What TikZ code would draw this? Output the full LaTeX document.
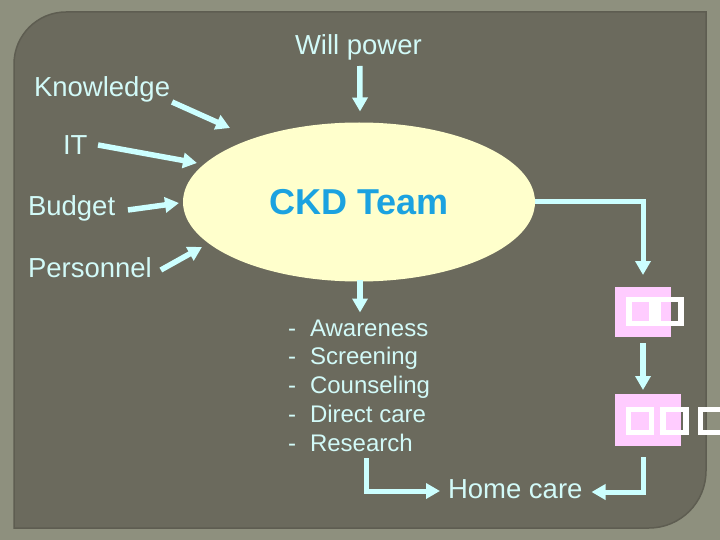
\documentclass[tikz,border=0pt]{standalone}
\usepackage{fontspec}
\setmainfont{Liberation Sans}
\usetikzlibrary{arrows.meta,shapes.geometric}
\definecolor{outerbg}{HTML}{8E907E}
\definecolor{panel}{HTML}{6B6A5D}
\definecolor{paneledge}{HTML}{5E5D51}
\definecolor{cyanc}{HTML}{CCFFFF}
\definecolor{txtc}{HTML}{D2FAF8}
\definecolor{ellc}{HTML}{FFFFCC}
\definecolor{ckdblue}{HTML}{1BA2E0}
\definecolor{pinkc}{HTML}{FFCCFF}
\tikzset{
  lbl/.style={font=\fontsize{27.5}{33}\selectfont, text=txtc, inner sep=0pt, outer sep=0pt, anchor=base west},
  item/.style={font=\fontsize{24}{28.8}\selectfont, text=txtc, inner sep=0pt, outer sep=0pt, anchor=base west},
  arr/.style={draw=cyanc, line width=5.5pt, -{Triangle[width=15pt,length=14pt]}},
  bent/.style={draw=cyanc, line width=5pt, line join=miter, -{Triangle[width=15pt,length=14pt]}},
  pinkbox/.style={fill=pinkc, inner sep=0pt, outer sep=0pt, rectangle},
  tofu/.style={draw=white, line width=5.2pt, inner sep=0pt, outer sep=0pt, rectangle, minimum width=23pt, minimum height=23.5pt}
}
\begin{document}
\begin{tikzpicture}[x=1pt,y=-1pt]
\useasboundingbox (0,0) rectangle (720,540);
\fill[outerbg] (0,0) rectangle (720,540);
\filldraw[fill=panel, draw=paneledge, line width=1.5pt]
  (14,528) -- (14,64) arc[start angle=180,end angle=90,radius=52pt]
  -- (706,12) -- (706,471) arc[start angle=0,end angle=-90,radius=57pt] -- cycle;

% labels
\node[lbl] (will) at (295,55) {Will power};
\node[lbl] (know) at (34,97) {Knowledge};
\node[lbl] (it) at (63,155) {IT};
\node[lbl] (budget) at (28,215) {Budget};
\node[lbl] (pers) at (28,277) {Personnel};

% central ellipse
\node[ellipse, fill=ellc, minimum width=352pt, minimum height=159pt, inner sep=0pt, outer sep=0pt,
      text=ckdblue, font=\fontsize{36}{40}\selectfont\bfseries] (ckd) at (359,202) {CKD Team};

% activity list
\foreach \w [count=\i] in {Awareness,Screening,Counseling,Direct care,Research}{
  \node[item] (d\i) at (288,{336+28.75*(\i-1)}) {-};
  \node[item] (l\i) at (310,{336+28.75*(\i-1)}) {\w};
}

\node[lbl] (home) at (448,498) {Home care};

% pink boxes
\node[pinkbox, minimum width=56pt, minimum height=50pt] (box1) at (643,312) {};
\node[pinkbox, minimum width=66pt, minimum height=52pt] (box2) at (648,420) {};
\node[tofu] (t1a) at (640.5,311.5) {};
\node[tofu] (t1b) at (669.5,311.5) {};
\node[tofu] (t2a) at (640,421) {};
\node[tofu] (t2b) at (674.5,421) {};
\node[tofu] (t2c) at (712,421) {};

% incoming arrows
\draw[arr] ([shift={(1.5,11)}]will.base) -- ([shift={(1,-11)}]ckd.north);
\draw[arr] ([shift={(2,5)}]know.base east) -- ([shift={(-129,-74)}]ckd.center);
\draw[arr] ([shift={(10.6,-10)}]it.base east) -- ([shift={(-162,-39)}]ckd.center);
\draw[arr] ([shift={(12.8,-5)}]budget.base east) -- ([shift={(-180,1)}]ckd.center);
\draw[arr] ([shift={(9,-7)}]pers.base east) -- ([shift={(-157,45)}]ckd.center);

% outgoing arrows
\draw[arr] ([shift={(1,-2)}]ckd.south) -- ([shift={(1,31)}]ckd.south);
\draw[bent] (ckd.east) -| ([yshift=12pt]box1.north);
\draw[arr, shorten <=6pt, shorten >=4pt] (box1.south) -- (box1.south |- box2.north);
\draw[bent, shorten <=11pt] (box1.south |- box2.south) |- ([shift={(9,-6)}]home.base east);
\draw[bent] ([shift={(56,7)}]l5.base west) |- ([shift={(-8,-7)}]home.base west);
\end{tikzpicture}
\end{document}
